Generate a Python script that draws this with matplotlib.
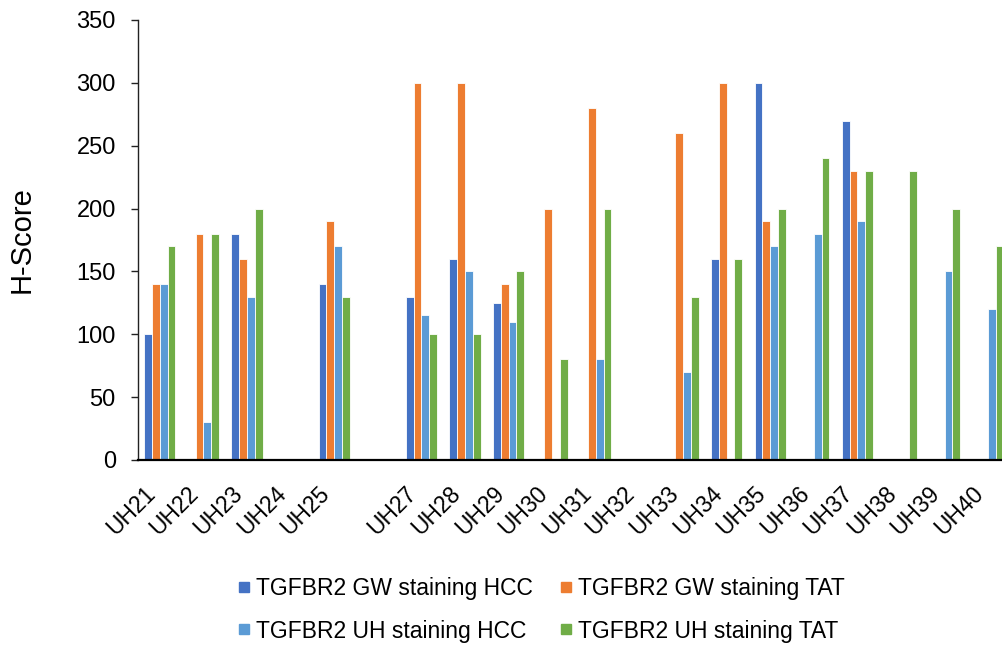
import numpy as np
import matplotlib
matplotlib.use("Agg")
from matplotlib import pyplot as plt
from matplotlib.lines import Line2D
from matplotlib.transforms import ScaledTranslation

nan = np.nan
categories = ["UH21", "UH22", "UH23", "UH24", "UH25", "", "UH27", "UH28", "UH29", "UH30",
              "UH31", "UH32", "UH33", "UH34", "UH35", "UH36", "UH37", "UH38", "UH39", "UH40"]
gw_hcc = [100, nan, 180, nan, 140, nan, 130, 160, 125, nan,
          nan, nan, nan, 160, 300, nan, 270, nan, nan, nan]
gw_tat = [140, 180, 160, nan, 190, nan, 300, 300, 140, 200,
          280, nan, 260, 300, 190, nan, 230, nan, nan, nan]
uh_hcc = [140, 30, 130, nan, 170, nan, 115, 150, 110, nan,
          80, nan, 70, nan, 170, 180, 190, nan, 150, 120]
uh_tat = [170, 180, 200, nan, 130, nan, 100, 100, 150, 80,
          200, nan, 130, 160, 200, 240, 230, 230, 200, 170]
series_names = ["TGFBR2 GW staining HCC", "TGFBR2 GW staining TAT",
                "TGFBR2 UH staining HCC", "TGFBR2 UH staining TAT"]
colors = ["#4472C4", "#ED7D31", "#5B9BD5", "#70AD47"]

plt.rcParams['font.family'] = ['Liberation Sans', 'DejaVu Sans']

fig = plt.figure(figsize=(10.03, 6.49), dpi=100)
ax = fig.add_axes([138 / 1003, 1 - 460 / 649, 872 / 1003, 440 / 649])

x = np.arange(len(categories))
w = 0.178
for i, (vals, c) in enumerate(zip([gw_hcc, gw_tat, uh_hcc, uh_tat], colors)):
    ax.bar(x + (i - 1.5) * w, np.array(vals, dtype=float), w, color=c,
           edgecolor='white', linewidth=0.6)

ax.set_xlim(-0.5, len(categories) - 0.5)
ax.set_ylim(0, 350)
ax.set_yticks(np.arange(0, 351, 50))
ax.set_xticks(x)
ax.set_xticklabels(categories, rotation=45, ha='right', fontsize=16.5)
# excel puts the rotated labels a little right of the category centre
off = ScaledTranslation(7 / 100, 0, fig.dpi_scale_trans)
for lab in ax.get_xticklabels():
    lab.set_transform(lab.get_transform() + off)
ax.tick_params(axis='x', length=0, pad=16)
ax.tick_params(axis='y', length=5, width=1, pad=11, labelsize=17, color='#222222')
ax.set_ylabel("H-Score", fontsize=21, labelpad=29)

for s in ['top', 'right']:
    ax.spines[s].set_visible(False)
ax.spines['left'].set_linewidth(1)
ax.spines['left'].set_color('#222222')
ax.spines['bottom'].set_linewidth(1.6)
ax.spines['bottom'].set_color('black')

handles = [Line2D([], [], marker='s', linestyle='', markersize=7.3, color=c) for c in colors]
order = [0, 2, 1, 3]
fig.legend([handles[k] for k in order], [series_names[k] for k in order],
           ncol=2, loc='center', bbox_to_anchor=(542 / 1003, 1 - 610 / 649),
           frameon=False, fontsize=16.5, handlelength=0.44,
           handletextpad=0.3, columnspacing=1.22, labelspacing=0.83, borderpad=0)

fig.savefig("out.png", dpi=100)
